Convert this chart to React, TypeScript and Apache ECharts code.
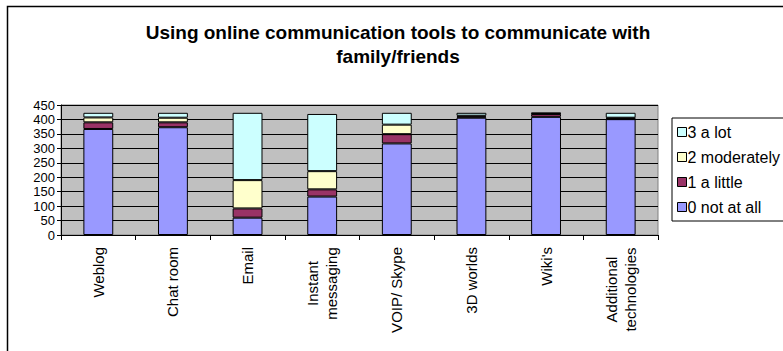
import React, { useEffect, useRef } from "react";
import * as echarts from "echarts";

const categories = [
  "Weblog",
  "Chat room",
  "Email",
  "Instant\nmessaging",
  "VOIP/ Skype",
  "3D worlds",
  "Wiki's",
  "Additional\ntechnologies",
];
const notAtAll = [367, 373, 60, 133, 317, 406, 409, 401];
const aLittle = [23, 17, 32, 25, 32, 4, 10, 3];
const moderately = [17, 16, 98, 63, 33, 3, 2, 2];
const aLot = [16, 17, 233, 198, 41, 10, 2, 17];
const yTicks = { min: 0, max: 450, interval: 50 };

const FONT = '"Liberation Sans", Arial, sans-serif';

export default function App() {
  const ref = useRef<HTMLDivElement>(null);
  useEffect(() => {
    if (!ref.current) return;
    const chart = echarts.init(ref.current, undefined, { renderer: "svg" });
    const mk = (name: string, data: number[], color: string) => ({
      name,
      type: "bar",
      stack: "total",
      data,
      barWidth: "40%",
      itemStyle: { color, borderColor: "#000", borderWidth: 1 },
    });
    chart.setOption({
      animation: false,
      textStyle: { fontFamily: FONT },
      title: {
        text: "Using online communication tools to communicate with\nfamily/friends",
        left: 398,
        top: 20,
        textAlign: "center",
        padding: 0,
        textStyle: {
          fontFamily: FONT,
          fontSize: 19,
          fontWeight: "bold",
          color: "#000",
          lineHeight: 24,
        },
      },
      graphic: [
        {
          type: "rect",
          shape: { x: 7.5, y: 6.5, width: 900, height: 500 },
          style: { fill: "none", stroke: "#000", lineWidth: 1.5 },
          silent: true,
        },
      ],
      legend: {
        orient: "vertical",
        left: 672,
        top: 118,
        padding: [5, 4, 5, 5],
        itemGap: 7,
        itemWidth: 9,
        itemHeight: 9,
        itemStyle: { borderColor: "#000", borderWidth: 1 },
        borderColor: "#000",
        borderWidth: 1,
        backgroundColor: "#fff",
        icon: "rect",
        data: ["3 a lot", "2 moderately", "1 a little", "0 not at all"],
        textStyle: {
          fontFamily: FONT,
          fontSize: 16,
          color: "#000",
          padding: [0, 0, 0, -4],
          lineHeight: 18,
        },
      },
      grid: {
        left: 61,
        right: 125,
        top: 105,
        bottom: 116,
        show: true,
        backgroundColor: "#C0C0C0",
        borderColor: "#808080",
        borderWidth: 1,
      },
      xAxis: {
        type: "category",
        data: categories,
        axisLine: { lineStyle: { color: "#000", width: 1 } },
        axisTick: { show: true, length: 5, lineStyle: { color: "#000" } },
        axisLabel: {
          rotate: 90,
          margin: 12,
          interval: 0,
          fontFamily: FONT,
          fontSize: 15,
          lineHeight: 19,
          color: "#000",
          formatter: (v: string) => {
            const parts = v.split("\n");
            if (parts.length < 2) return v;
            const key = parts[1].length > 10 ? "w" : "m";
            return parts.map((p) => `{${key}|${p}}`).join("\n");
          },
          rich: {
            m: { width: 73, align: "center", fontSize: 15, lineHeight: 19, fontFamily: FONT, color: "#000" },
            w: { width: 85, align: "center", fontSize: 15, lineHeight: 19, fontFamily: FONT, color: "#000" },
          },
        },
      },
      yAxis: {
        type: "value",
        min: yTicks.min,
        max: yTicks.max,
        interval: yTicks.interval,
        axisLine: { show: true, lineStyle: { color: "#000", width: 1 } },
        axisTick: { show: true, length: 4, lineStyle: { color: "#000" } },
        axisLabel: {
          margin: 6,
          fontFamily: FONT,
          fontSize: 13,
          color: "#000",
        },
        splitLine: { show: true, lineStyle: { color: "#000", width: 1 } },
      },
      series: [
        mk("0 not at all", notAtAll, "#9999FF"),
        mk("1 a little", aLittle, "#993366"),
        mk("2 moderately", moderately, "#FFFFCC"),
        mk("3 a lot", aLot, "#CCFFFF"),
      ],
    });
    return () => chart.dispose();
  }, []);
  return (
    <div
      ref={ref}
      style={{
        position: "fixed",
        left: 0,
        top: 0,
        width: 783,
        height: 351,
        background: "#fff",
      }}
    />
  );
}
